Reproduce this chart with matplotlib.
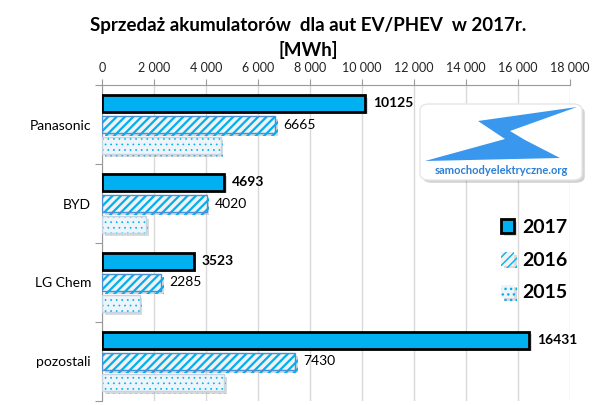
import matplotlib
matplotlib.use("Agg")
import matplotlib.pyplot as plt
import matplotlib.patheffects as pe
from matplotlib.patches import FancyBboxPatch, Polygon
from matplotlib.ticker import FuncFormatter, FixedLocator

plt.rcParams["font.family"] = ["Lato", "DejaVu Sans"]

companies = ["Panasonic", "BYD", "LG Chem", "pozostali"]
sales_2017 = [10125, 4693, 3523, 16431]
sales_2016 = [6665, 4020, 2285, 7430]
sales_2015 = [4560, 1700, 1450, 4700]
years = ["2017", "2016", "2015"]

CYAN = "#00B0F0"

fig = plt.figure(figsize=(6.12, 4.05), dpi=100)
ax = fig.add_axes([0.1667, 0.01, 0.7645, 0.78])

pos = list(range(len(companies)))
h = 0.215
shadow = [pe.SimplePatchShadow(offset=(2, -2), shadow_rgbFace="#999999", alpha=0.35), pe.Normal()]

b17 = ax.barh([p - 0.27 for p in pos], sales_2017, height=h, color=CYAN,
              edgecolor="black", linewidth=2, label=years[0], zorder=3)
b16 = ax.barh(pos, sales_2016, height=h, color="#f2f2f2", edgecolor=CYAN,
              hatch="////", linewidth=0, label=years[1], zorder=3)
ax.barh(pos, sales_2016, height=h, color="none", edgecolor="#4a8fd4",
        linewidth=1, zorder=4)
b15 = ax.barh([p + 0.27 for p in pos], sales_2015, height=h, color="#eef5fa",
              edgecolor=CYAN, hatch="...", linewidth=0, label=years[2], zorder=3)
ax.barh([p + 0.27 for p in pos], sales_2015, height=h, color="none",
        edgecolor="#c3d5e4", linewidth=1, zorder=4)

for r in b16:
    r.set_hatch_linewidth(1.6)
for r in b15:
    r.set_hatch_linewidth(0.5)
for bars in (b17, b16, b15):
    for r in bars:
        r.set_path_effects(shadow)

for p, v in zip(pos, sales_2017):
    ax.annotate(str(v), (v, p - 0.27), xytext=(6, 0), textcoords="offset points",
                va="center", ha="left", fontsize=10, fontweight="bold")
for p, v in zip(pos, sales_2016):
    ax.annotate(str(v), (v, p), xytext=(6, 0), textcoords="offset points",
                va="center", ha="left", fontsize=10)

ax.set_xlim(0, 18000)
ax.set_ylim(3.5, -0.5)
ax.xaxis.set_major_locator(FixedLocator(range(0, 18001, 2000)))
ax.xaxis.set_major_formatter(FuncFormatter(lambda x, _: f"{int(x):,}".replace(",", " ")))
ax.xaxis.tick_top()
ax.tick_params(axis="x", length=4, direction="out", color="#999999",
               labelsize=9, pad=4, labelcolor="#222222")
ax.grid(axis="x", color="#d9d9d9", linewidth=1, zorder=0)
ax.set_axisbelow(True)

ax.yaxis.set_major_locator(FixedLocator([-0.5, 0.5, 1.5, 2.5, 3.5]))
ax.yaxis.set_major_formatter(FuncFormatter(lambda y, _: ""))
ax.yaxis.set_minor_locator(FixedLocator(pos))
ax.set_yticklabels(companies, minor=True)
ax.tick_params(axis="y", which="major", length=5, color="#999999")
ax.tick_params(axis="y", which="minor", length=0, labelsize=10, pad=8)

for s in ("right", "bottom"):
    ax.spines[s].set_visible(False)
ax.spines["left"].set_color("#999999")
ax.spines["top"].set_color("#999999")

fig.text(0.503, 0.936, "Sprzedaż akumulatorów  dla aut EV/PHEV  w 2017r.",
         ha="center", va="center", fontsize=13.5, fontweight="bold")
fig.text(0.503, 0.877, "[MWh]", ha="center", va="center", fontsize=13.5, fontweight="bold")

leg = ax.legend(loc="center left", bbox_to_anchor=(0.815, 0.446), frameon=False,
                prop={"size": 14, "weight": "bold"}, handlelength=0.7,
                handleheight=0.7, labelspacing=0.8, handletextpad=0.4)

# logo
W, H = 612, 405
def fp(x, y):
    return (x / W, 1 - y / H)
box = FancyBboxPatch(fp(420, 180), (582 - 420) / W, (180 - 104) / H,
                     boxstyle="round,pad=0,rounding_size=0.015",
                     transform=fig.transFigure, facecolor="white",
                     edgecolor="#e6e6e6", linewidth=1, zorder=5,
                     path_effects=[pe.SimplePatchShadow(offset=(2, -2), alpha=0.25), pe.Normal()])
fig.add_artist(box)
bolt = Polygon([fp(577, 107), fp(478, 121), fp(505, 139), fp(425, 161),
                fp(560, 158), fp(525, 140), fp(510, 131)],
               closed=True, transform=fig.transFigure, facecolor="#3a97ee",
               edgecolor="none", zorder=6)
fig.add_artist(bolt)
fig.text(501 / W, 1 - 170 / H, "samochodyelektryczne.org", ha="center", va="center",
         fontsize=8, fontweight="bold", color="#2b7fd6", zorder=7)

fig.savefig("out.png", dpi=100)
